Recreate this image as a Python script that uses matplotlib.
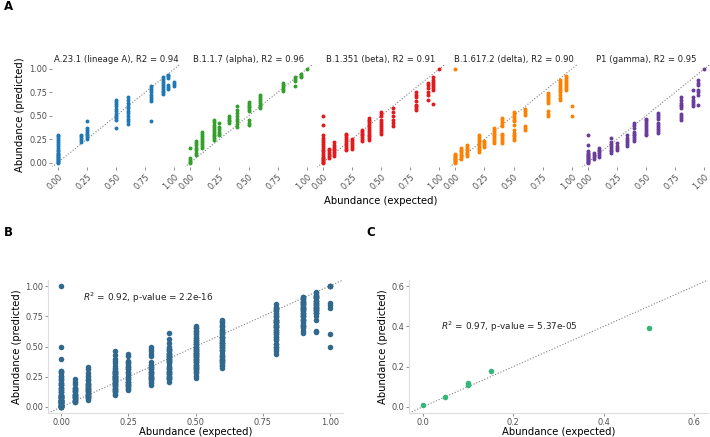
import numpy as np
import matplotlib.pyplot as plt

# expected abundance levels used in the mixtures
levels = [0.0, 0.05, 0.1, 0.2, 0.25, 0.333, 0.4, 0.5, 0.6, 0.8, 0.9, 0.95, 1.0]

# predicted abundance per expected level (same order as levels)
lineage_a = [
    [0.0, 0.01, 0.02, 0.03, 0.04, 0.05, 0.06, 0.07, 0.08, 0.09, 0.10, 0.12, 0.14, 0.16,
     0.18, 0.20, 0.22, 0.24, 0.26, 0.28, 0.30],
    [], [],
    [0.22, 0.24, 0.26, 0.28, 0.30],
    [0.25, 0.27, 0.29, 0.31, 0.33, 0.35, 0.37, 0.44],
    [], [],
    [0.37, 0.45, 0.48, 0.50, 0.52, 0.55, 0.57, 0.60, 0.63, 0.65, 0.67],
    [0.41, 0.44, 0.47, 0.50, 0.53, 0.55, 0.58, 0.61, 0.64, 0.67, 0.70],
    [0.44, 0.66, 0.68, 0.70, 0.72, 0.75, 0.78, 0.80, 0.82],
    [0.73, 0.75, 0.77, 0.79, 0.81, 0.83, 0.85, 0.87, 0.89, 0.91],
    [0.79, 0.81, 0.83, 0.90, 0.92, 0.94],
    [0.82, 0.84, 0.86],
]
alpha = [
    [0.0, 0.01, 0.03, 0.05, 0.16],
    [0.08, 0.10, 0.13, 0.16, 0.19, 0.21, 0.23],
    [0.16, 0.18, 0.20, 0.22, 0.24, 0.26, 0.28, 0.31, 0.33],
    [0.24, 0.26, 0.28, 0.30, 0.32, 0.34, 0.36, 0.38, 0.40, 0.43, 0.46],
    [0.29, 0.31, 0.33, 0.36, 0.38, 0.42],
    [0.42, 0.44, 0.46, 0.48, 0.50],
    [0.38, 0.41, 0.44, 0.47, 0.50, 0.53, 0.56, 0.61],
    [0.40, 0.42, 0.45, 0.55, 0.57, 0.59, 0.61, 0.63, 0.65],
    [0.58, 0.60, 0.62, 0.64, 0.66, 0.68, 0.70, 0.72],
    [0.77, 0.79, 0.81, 0.83, 0.85],
    [0.82, 0.87, 0.89, 0.91],
    [0.91, 0.93, 0.95],
    [1.00],
]
beta = [
    [0.0, 0.01, 0.02, 0.03, 0.04, 0.05, 0.06, 0.08, 0.10, 0.12, 0.14, 0.16, 0.18, 0.20,
     0.22, 0.24, 0.26, 0.30, 0.40, 0.50],
    [0.05, 0.07, 0.09, 0.11, 0.13, 0.15],
    [0.07, 0.09, 0.11, 0.13, 0.15, 0.17, 0.19, 0.22],
    [0.13, 0.15, 0.17, 0.19, 0.21, 0.23, 0.25, 0.27, 0.29, 0.31],
    [0.15, 0.17, 0.19, 0.21, 0.23, 0.25],
    [0.23, 0.25, 0.27, 0.29, 0.31, 0.33, 0.35],
    [0.24, 0.26, 0.28, 0.30, 0.32, 0.34, 0.36, 0.38, 0.40, 0.42, 0.44, 0.46, 0.48],
    [0.31, 0.33, 0.35, 0.37, 0.39, 0.41, 0.43, 0.46, 0.50, 0.52, 0.54],
    [0.39, 0.42, 0.46, 0.50, 0.54, 0.58],
    [0.56, 0.58, 0.60, 0.62, 0.66, 0.70, 0.72, 0.75],
    [0.67, 0.72, 0.75, 0.80, 0.83, 0.85],
    [0.63, 0.78, 0.80, 0.82, 0.84, 0.86, 0.88, 0.91],
    [1.00],
]
delta = [
    [0.0, 0.01, 0.02, 0.03, 0.04, 0.05, 0.06, 0.07, 0.08, 0.09, 1.00],
    [0.04, 0.06, 0.08, 0.10, 0.12, 0.14, 0.16],
    [0.07, 0.09, 0.11, 0.13, 0.15, 0.17, 0.19],
    [0.11, 0.13, 0.15, 0.17, 0.19, 0.21, 0.23, 0.25, 0.27, 0.29],
    [0.17, 0.19, 0.21, 0.23],
    [0.21, 0.23, 0.25, 0.27, 0.29, 0.31, 0.33, 0.35, 0.37],
    [0.21, 0.23, 0.25, 0.27, 0.29, 0.31, 0.39, 0.41, 0.43, 0.45, 0.48],
    [0.24, 0.26, 0.28, 0.30, 0.32, 0.35, 0.40, 0.44, 0.46, 0.48, 0.50, 0.52, 0.54],
    [0.35, 0.37, 0.39, 0.51, 0.53, 0.55, 0.57],
    [0.50, 0.52, 0.55, 0.64, 0.66, 0.68, 0.70, 0.72, 0.74],
    [0.67, 0.69, 0.72, 0.75, 0.78, 0.80, 0.82, 0.84, 0.86, 0.88],
    [0.78, 0.80, 0.82, 0.84, 0.86, 0.88, 0.90, 0.92],
    [0.50, 0.60],
]
gamma = [
    [0.0, 0.01, 0.02, 0.03, 0.04, 0.05, 0.06, 0.07, 0.08, 0.09, 0.10, 0.12, 0.19, 0.29],
    [0.04, 0.06, 0.08, 0.10],
    [0.06, 0.08, 0.10, 0.12, 0.14, 0.16],
    [0.10, 0.12, 0.14, 0.16, 0.18, 0.20, 0.22, 0.26],
    [0.14, 0.16, 0.18, 0.21],
    [0.18, 0.20, 0.22, 0.24, 0.26, 0.29],
    [0.23, 0.25, 0.27, 0.29, 0.31, 0.33, 0.37, 0.40, 0.42],
    [0.29, 0.31, 0.33, 0.35, 0.37, 0.39, 0.41, 0.43, 0.45, 0.47],
    [0.32, 0.34, 0.36, 0.38, 0.40, 0.42, 0.47, 0.49, 0.51, 0.53],
    [0.46, 0.48, 0.50, 0.52, 0.58, 0.60, 0.62, 0.64, 0.67, 0.70],
    [0.61, 0.63, 0.65, 0.67, 0.70, 0.78],
    [0.62, 0.72, 0.75, 0.78, 0.83, 0.85, 0.88],
    [1.00],
]

variant_names = ['A.23.1 (lineage A)', 'B.1.1.7 (alpha)', 'B.1.351 (beta)',
                 'B.1.617.2 (delta)', 'P1 (gamma)']
variant_r2 = [0.94, 0.96, 0.91, 0.90, 0.95]
variant_colors = ['#1f78b4', '#33a02c', '#e31a1c', '#ff7f00', '#6a3d9a']

# panel C: independent samples
c_expected = [0.0, 0.05, 0.1, 0.1, 0.15, 0.5]
c_predicted = [0.01, 0.05, 0.12, 0.11, 0.18, 0.39]

b_text = '$R^2$ = 0.92, p-value = 2.2e-16'
c_text = '$R^2$ = 0.97, p-value = 5.37e-05'


def flatten(cols):
    xs, ys = [], []
    for lv, vals in zip(levels, cols):
        xs += [lv] * len(vals)
        ys += vals
    return np.array(xs), np.array(ys)


def style_ticks(ax):
    ax.tick_params(length=2, width=0.6, color='#7f7f7f', labelcolor='#4d4d4d',
                   labelsize=5.9, pad=1.5)


W, H = 710, 437
fig = plt.figure(figsize=(W / 100, H / 100), dpi=100)


def px_axes(left, top, width, height):
    return fig.add_axes([left / W, 1 - (top + height) / H, width / W, height / H])


ticks = [0, 0.25, 0.5, 0.75, 1.0]
all_x, all_y = [], []
for i, cols in enumerate([lineage_a, alpha, beta, delta, gamma]):
    ax = px_axes(52 + 132.5 * i, 64.3, 128, 103)
    x, y = flatten(cols)
    all_x.append(x)
    all_y.append(y)
    ax.plot([-0.05, 1.05], [-0.05, 1.05], ls=':', color='#808080', lw=0.8, zorder=1)
    ax.scatter(x, y, s=8, color=variant_colors[i], linewidths=0, zorder=2)
    ax.set_xlim(-0.05, 1.05)
    ax.set_ylim(-0.05, 1.05)
    ax.set_xticks(ticks)
    ax.set_xticklabels(['%.2f' % t for t in ticks], rotation=45, ha='right',
                       rotation_mode='anchor')
    ax.set_yticks(ticks)
    if i == 0:
        ax.set_yticklabels(['%.2f' % t for t in ticks])
    else:
        ax.tick_params(axis='y', left=False, labelleft=False)
    style_ticks(ax)
    for s in ax.spines.values():
        s.set_visible(False)
    ax.set_title('%s, R2 = %.2f' % (variant_names[i], variant_r2[i]),
                 fontsize=6.1, color='#222222', pad=2)

fig.text(20 / W, 1 - 115 / H, 'Abundance (predicted)', rotation=90, fontsize=7.2,
         ha='center', va='center')
fig.text(381 / W, 1 - 201 / H, 'Abundance (expected)', fontsize=7.2,
         ha='center', va='center')

# panel B: all variants pooled
axb = px_axes(48, 280, 295, 133)
bx = np.concatenate(all_x)
by = np.concatenate(all_y)
axb.plot([-0.05, 1.05], [-0.05, 1.05], ls=':', color='#808080', lw=0.8, zorder=1)
axb.scatter(bx, by, s=16, color='#31688e', linewidths=0, zorder=2)
axb.set_xlim(-0.05, 1.05)
axb.set_ylim(-0.05, 1.05)
axb.set_xticks(ticks)
axb.set_yticks(ticks)
axb.set_xticklabels(['%.2f' % t for t in ticks])
axb.set_yticklabels(['%.2f' % t for t in ticks])
axb.text(0.08, 0.90, b_text, fontsize=6.4, color='#222222', va='center')

# panel C
axc = px_axes(409, 280, 299, 133)
axc.plot([-0.03, 0.63], [-0.03, 0.63], ls=':', color='#808080', lw=0.8, zorder=1)
axc.scatter(c_expected, c_predicted, s=16, color='#35b779', linewidths=0, zorder=2)
axc.set_xlim(-0.03, 0.63)
axc.set_ylim(-0.03, 0.63)
axc.set_xticks([0, 0.2, 0.4, 0.6])
axc.set_yticks([0, 0.2, 0.4, 0.6])
axc.text(0.04, 0.40, c_text, fontsize=6.4, color='#222222', va='center')

for ax in (axb, axc):
    style_ticks(ax)
    ax.spines['top'].set_visible(False)
    ax.spines['right'].set_visible(False)
    for s in ('left', 'bottom'):
        ax.spines[s].set_color('#dddddd')
        ax.spines[s].set_linewidth(0.8)
    ax.set_xlabel('Abundance (expected)', fontsize=7.2, labelpad=0)
    ax.set_ylabel('Abundance (predicted)', fontsize=7.2, labelpad=2)

fig.text(4 / W, 1 - 7 / H, 'A', fontsize=8.5, fontweight='bold', va='center')
fig.text(4 / W, 1 - 233 / H, 'B', fontsize=8.5, fontweight='bold', va='center')
fig.text(366 / W, 1 - 233 / H, 'C', fontsize=8.5, fontweight='bold', va='center')

fig.savefig('out.png', dpi=100)
